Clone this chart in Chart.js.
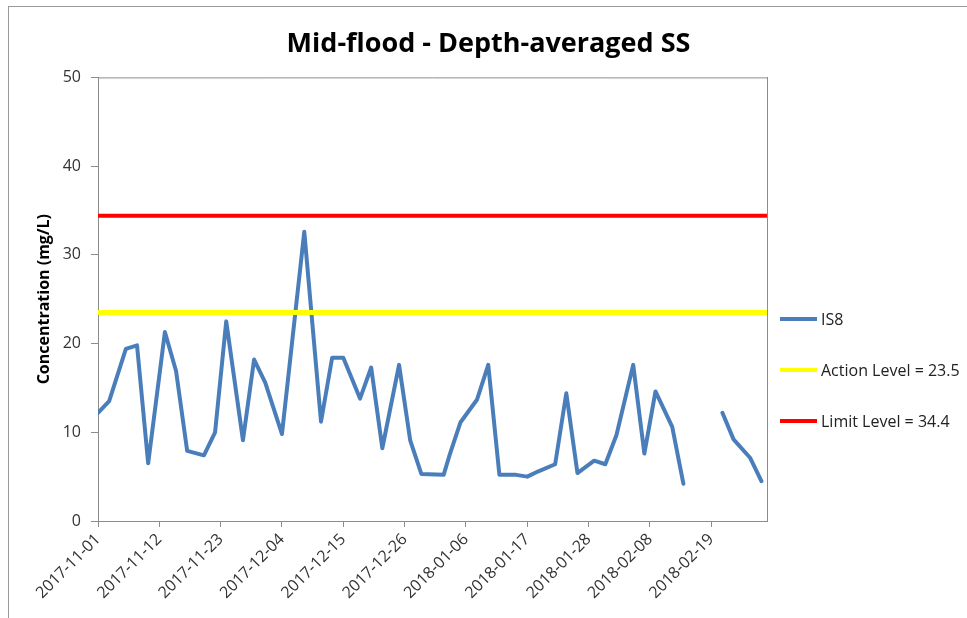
<!DOCTYPE html>
<html>
<head>
<meta charset="utf-8">
<title>Mid-flood - Depth-averaged SS</title>
<script src="https://cdn.jsdelivr.net/npm/chart.js@4.4.1/dist/chart.umd.min.js"></script>
<style>
  html, body { margin: 0; padding: 0; background: #fff; overflow: hidden; }
  .wrap { position: relative; width: 967px; height: 618px; }
  .frame { position: absolute; left: 8px; top: 6px; width: 1000px; height: 700px;
           border-left: 1px solid #9a9a9a; border-top: 1px solid #9a9a9a; pointer-events: none; }
  #legend { position: absolute; left: 780px; top: 308px; margin: 0; padding: 0; list-style: none;
            font-family: "Open Sans", sans-serif; font-size: 16px; color: #222; }
  #legend li { display: flex; align-items: center; height: 22px; margin-bottom: 29px; white-space: nowrap; }
  #legend .swatch { display: inline-block; width: 37px; height: 4px; margin-right: 4px; }
</style>
</head>
<body>
<div class="wrap">
  <canvas id="ssChart" width="967" height="618"></canvas>
  <div class="frame"></div>
  <ul id="legend"></ul>
</div>
<script>
// sampling dates (Mon/Wed/Fri); null marks the break in the record
const sampleDates = [
  "2017-11-01", "2017-11-03", "2017-11-06", "2017-11-08", "2017-11-10",
  "2017-11-13", "2017-11-15", "2017-11-17", "2017-11-20", "2017-11-22",
  "2017-11-24", "2017-11-27", "2017-11-29", "2017-12-01", "2017-12-04",
  "2017-12-08", "2017-12-11", "2017-12-13", "2017-12-15", "2017-12-18",
  "2017-12-20", "2017-12-22", "2017-12-25", "2017-12-27", "2017-12-29",
  "2018-01-02", "2018-01-03", "2018-01-05", "2018-01-08", "2018-01-10",
  "2018-01-12", "2018-01-15", "2018-01-17", "2018-01-19", "2018-01-22",
  "2018-01-24", "2018-01-26", "2018-01-29", "2018-01-31", "2018-02-02",
  "2018-02-05", "2018-02-07", "2018-02-09", "2018-02-12", "2018-02-14",
  "2018-02-19", "2018-02-21", "2018-02-23", "2018-02-26", "2018-02-28"
];
const is8Values = [
  12.2, 13.5, 19.4, 19.8, 6.5,
  21.3, 16.9, 7.9, 7.4, 10.0,
  22.5, 9.1, 18.2, 15.6, 9.8,
  32.6, 11.2, 18.4, 18.4, 13.8,
  17.3, 8.2, 17.6, 9.1, 5.3,
  5.2, 7.3, 11.1, 13.7, 17.6,
  5.2, 5.2, 5.0, 5.6, 6.4,
  14.4, 5.4, 6.8, 6.4, 9.7,
  17.6, 7.6, 14.6, 10.6, 4.2,
  null, 12.2, 9.2, 7.1, 4.5
];
const actionLevel = 23.5;
const limitLevel = 34.4;
const axisStart = "2017-11-01";
const axisEnd = "2018-03-01";
const tickStepDays = 11;
const yTicks = [0, 10, 20, 30, 40, 50];

const DAY = 24 * 3600 * 1000;
const t0 = Date.parse(axisStart);
const toDay = (s) => (Date.parse(s) - t0) / DAY;
const dayLabel = (d) => new Date(t0 + d * DAY).toISOString().slice(0, 10);
const endDay = toDay(axisEnd);

const axisGrey = "#8c8c8c";
const tickFont = { family: "'Open Sans', sans-serif", size: 16 };

// top edge of the plot box (left/bottom/right come from the axes)
const plotBorder = {
  id: "plotBorder",
  afterDraw(chart) {
    const { ctx, chartArea } = chart;
    ctx.save();
    ctx.strokeStyle = axisGrey;
    ctx.lineWidth = 1;
    ctx.beginPath();
    ctx.moveTo(chartArea.left, chartArea.top + 0.5);
    ctx.lineTo(chartArea.right, chartArea.top + 0.5);
    ctx.stroke();
    ctx.restore();
  }
};

const chart = new Chart(document.getElementById("ssChart"), {
  type: "line",
  data: {
    datasets: [
      {
        label: "IS8",
        data: sampleDates.map((d, i) => ({ x: toDay(d), y: is8Values[i] })),
        borderColor: "#4a7ebb",
        borderWidth: 4,
        spanGaps: false,
        order: 3
      },
      {
        label: "Action Level = " + actionLevel,
        data: [{ x: 0, y: actionLevel }, { x: endDay, y: actionLevel }],
        borderColor: "#ffff00",
        borderWidth: 5,
        order: 2
      },
      {
        label: "Limit Level = " + limitLevel,
        data: [{ x: 0, y: limitLevel }, { x: endDay, y: limitLevel }],
        borderColor: "#ff0000",
        borderWidth: 4,
        order: 1
      }
    ]
  },
  options: {
    responsive: false,
    animation: false,
    layout: { padding: { left: 10, top: 6, right: 0, bottom: 0 } },
    elements: {
      point: { radius: 0 },
      line: { tension: 0, borderCapStyle: "round", borderJoinStyle: "round" }
    },
    plugins: {
      legend: { display: false },
      tooltip: { enabled: false },
      title: {
        display: true,
        text: "Mid-flood - Depth-averaged SS",
        color: "#000",
        font: { family: "'Open Sans', sans-serif", size: 27, weight: "bold" },
        padding: { top: 22, bottom: 17 }
      }
    },
    scales: {
      x: {
        type: "linear",
        min: 0,
        max: endDay,
        afterFit: (scale) => { scale.height = 97; },
        ticks: {
          stepSize: tickStepDays,
          includeBounds: false,
          minRotation: 45,
          maxRotation: 45,
          autoSkip: false,
          padding: 3,
          color: "#333",
          font: tickFont,
          callback: (v) => dayLabel(v)
        },
        grid: { drawOnChartArea: false, tickLength: 6, color: axisGrey },
        border: { color: axisGrey }
      },
      y: {
        min: 0,
        max: 50,
        afterFit: (scale) => { scale.width = 88; },
        afterBuildTicks: (scale) => { scale.ticks = yTicks.map((v) => ({ value: v })); },
        ticks: { padding: 10, color: "#333", font: tickFont },
        grid: { drawOnChartArea: false, tickLength: 7, color: axisGrey },
        border: { color: axisGrey },
        title: {
          display: true,
          text: "Concentration (mg/L)",
          color: "#000",
          font: { family: "'Open Sans', sans-serif", size: 16, weight: "bold" },
          padding: { top: 25, bottom: 0 }
        }
      },
      y2: {
        position: "right",
        display: true,
        min: 0,
        max: 50,
        afterFit: (scale) => { scale.width = 200; },
        ticks: { display: false },
        grid: { drawOnChartArea: false, drawTicks: false },
        border: { color: axisGrey }
      }
    }
  },
  plugins: [plotBorder]
});

// HTML legend built from the chart's datasets
const legendEl = document.getElementById("legend");
legendEl.innerHTML = chart.data.datasets
  .map((ds) => `<li><span class="swatch" style="background:${ds.borderColor}"></span>${ds.label}</li>`)
  .join("");
</script>
</body>
</html>
